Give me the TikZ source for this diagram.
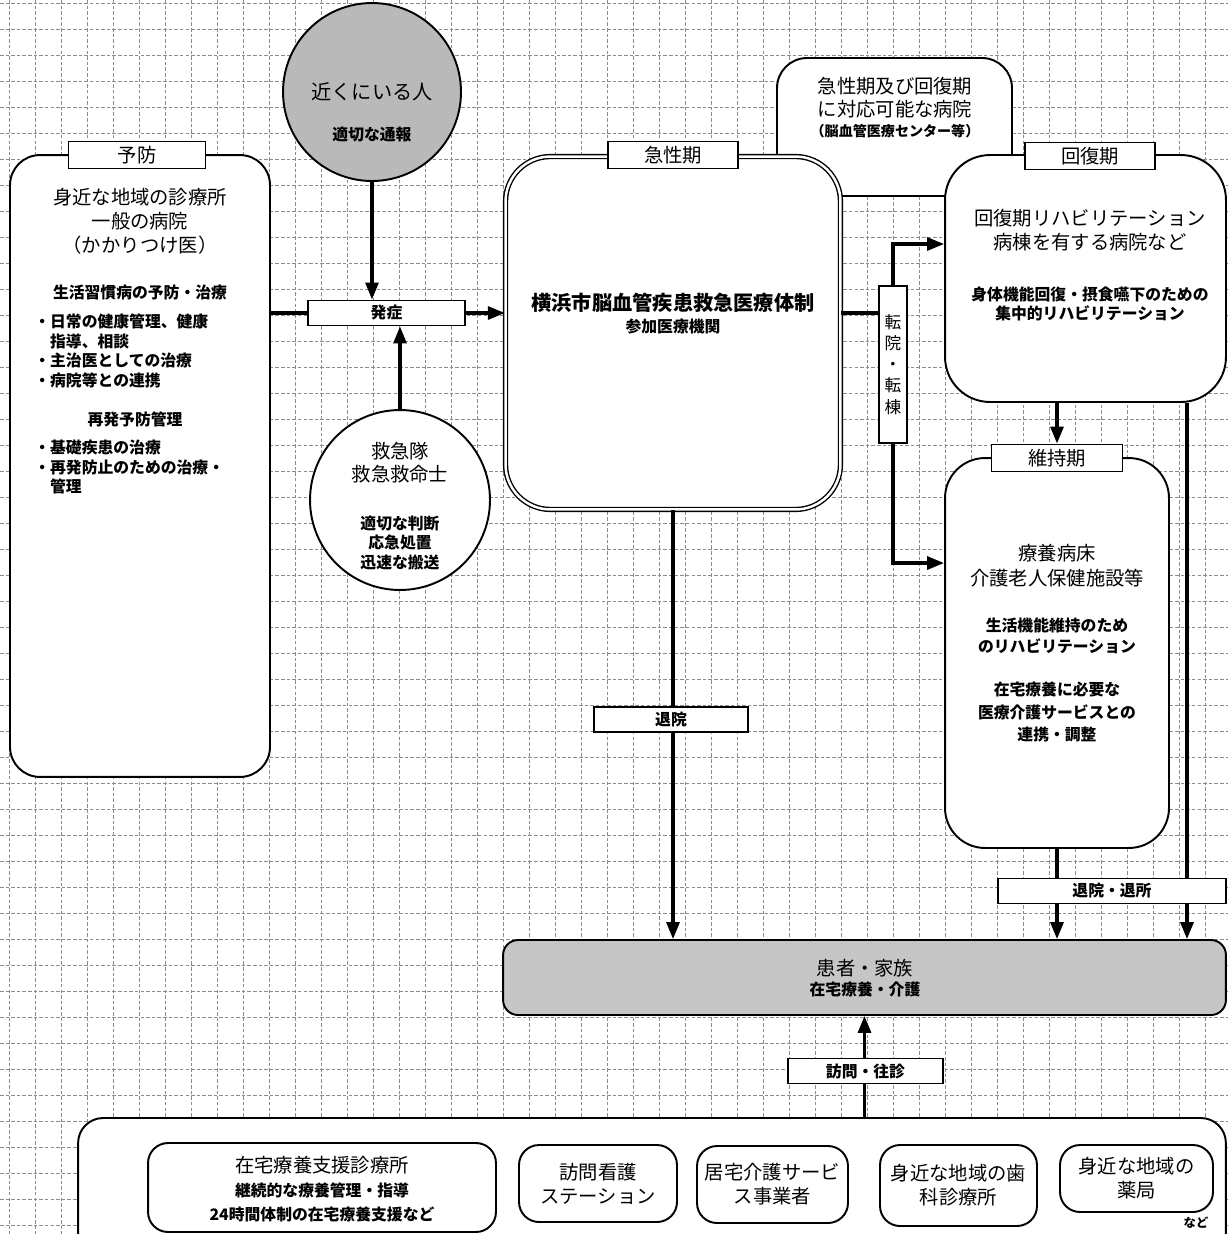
\documentclass[tikz,border=0pt]{standalone}
\usepackage{fontspec}
\setmainfont{Noto Sans CJK JP}
\usetikzlibrary{arrows.meta}

\begin{document}
\begin{tikzpicture}[
    x=0.02cm, y=-0.02cm,
    every node/.style={align=center, inner sep=0pt},
    gridline/.style={black!45, line width=0.4pt, dash pattern=on 2pt off 1.2pt},
    bigtext/.style={font=\fontsize{11}{13.7}\selectfont},
    smalltext/.style={font=\bfseries\fontsize{9}{11.3}\selectfont},
    box/.style={draw, line width=1.1pt, fill=white, rounded corners=#1},
    box/.default=6mm,
    stagelabel/.style={draw, line width=1.1pt, fill=white,
    minimum width=2.6cm, minimum height=0.54cm,
    font=\fontsize{11}{13}\selectfont},
    flowlabel/.style={draw, line width=1.1pt, fill=white,
    minimum height=0.5cm, font=\bfseries\fontsize{9}{11}\selectfont},
    flow/.style={line width=1.8pt, -{Triangle[length=3.4mm,width=2.6mm]}},
    link/.style={line width=1.8pt}
  ]
  \path[use as bounding box, fill=white] (0,0) rectangle (1228,1234);
  % background grid
  \foreach \gx in {9,35,...,1231}
    \draw[gridline] (\gx,0) -- (\gx,1234);
  \foreach \gy in {3,29,...,1237}
    \draw[gridline] (0,\gy) -- (1228,\gy);

  % prevention
  \node[box=6mm, minimum width=5.2cm, minimum height=12.44cm] (yobo) at (140,466) {};
  \node[stagelabel, minimum width=2.74cm] (yobolbl) at (137,155) {予防};
  \node[bigtext] (yobotxt) at (140,221)
  {身近な地域の診療所\\一般の病院\\（かかりつけ医）};
  \node[smalltext] (yobosub) at (140,293) {生活習慣病の予防・治療};
  \node[smalltext, align=left, anchor=west] (yobolist) at (34,351)
  {・日常の健康管理、健康\\\phantom{・}指導、相談\\・主治医としての治療\\・病院等との連携};
  \node[smalltext] (saihatsu) at (135,419) {再発予防管理};
  \node[smalltext, align=left, anchor=west] (saihatsulist) at (34,467)
  {・基礎疾患の治療\\・再発防止のための治療・\\\phantom{・}管理};

  % acute and recovery hospital (behind)
  \node[box=6mm, minimum width=4.7cm, minimum height=2.76cm] (taiou) at (894.5,127) {};
  \node[bigtext, font=\fontsize{11}{13.2}\selectfont] (taioutxt) at (895,98)
  {急性期及び回復期\\に対応可能な病院};
  \node[font=\bfseries\fontsize{8}{10}\selectfont] (taiousub) at (895,131)
  {（脳血管医療センター等）};

  % people nearby
  \node[draw, circle, line width=1.1pt, fill=gray!55, minimum size=3.56cm] (chikaku) at (372,92) {};
  \node[bigtext, font=\fontsize{11.5}{14}\selectfont] (chikakutxt) at (372,92) {近くにいる人};
  \node[smalltext] (tsuho) at (372,135) {適切な通報};

  % onset
  \node[flowlabel, minimum width=3.14cm] (hassho) at (386.5,313) {発症};

  % ambulance
  \node[draw, circle, line width=1.1pt, fill=white, minimum size=3.6cm] (kyukyu) at (400,500) {};
  \node[bigtext, font=\fontsize{11}{13}\selectfont] (kyukyutxt) at (400,463) {救急隊\\救急救命士};
  \node[smalltext] (kyukyusub) at (400,543) {適切な判断\\応急処置\\迅速な搬送};

  % acute phase
  \node[draw, double, double distance=1.4pt, line width=0.8pt, fill=white,
  rounded corners=9mm, minimum width=6.7cm, minimum height=7.06cm] (kyusei) at (673,333) {};
  \node[stagelabel] (kyuseilbl) at (673,155) {急性期};
  \node[font=\bfseries\fontsize{11.5}{14}\selectfont] (kyuseitxt) at (673,303)
  {横浜市脳血管疾患救急医療体制};
  \node[smalltext] (kyuseisub) at (673,327) {参加医療機関};

  % recovery phase
  \node[box=9mm, minimum width=5.62cm, minimum height=4.94cm] (kaifuku) at (1085.5,278.5) {};
  \node[stagelabel] (kaifukulbl) at (1090,156) {回復期};
  \node[bigtext, font=\fontsize{11}{14}\selectfont] (kaifukutxt) at (1090,230)
  {回復期リハビリテーション\\病棟を有する病院など};
  \node[smalltext] (kaifukusub) at (1090,304)
  {身体機能回復・摂食嚥下のための\\集中的リハビリテーション};

  % maintenance phase
  \node[box=8mm, minimum width=4.48cm, minimum height=7.8cm] (iji) at (1057,653) {};
  \node[stagelabel, minimum width=2.62cm] (ijilbl) at (1057,458) {維持期};
  \node[bigtext, font=\fontsize{11}{14.2}\selectfont] (ijitxt) at (1057,565.5)
  {療養病床\\介護老人保健施設等};
  \node[smalltext, font=\bfseries\fontsize{9}{12.2}\selectfont] (ijisub) at (1057,636)
  {生活機能維持のため\\のリハビリテーション};
  \node[smalltext, font=\bfseries\fontsize{9}{12.8}\selectfont] (ijirenkei) at (1057,712)
  {在宅療養に必要な\\医療介護サービスとの\\連携・調整};

  % transfer
  \node[flowlabel, minimum width=0.56cm, minimum height=3.14cm,
  font=\fontsize{9.5}{12}\selectfont] (tenin) at (893,364.5) {転\\院\\・\\転\\棟};

  % patient and family
  \node[box=3mm, fill=gray!45, minimum width=14.46cm, minimum height=1.5cm] (kanja) at (864.5,977.5) {};
  \node[bigtext] (kanjatxt) at (865,968) {患者・家族};
  \node[smalltext] (kanjasub) at (865,989) {在宅療養・介護};

  % community services
  \node[box=5mm, minimum width=22.96cm, minimum height=3.2cm] (chiiki) at (652,1198) {};
  \node[box=4mm, minimum width=6.96cm, minimum height=1.78cm] (shien) at (322,1187.5) {};
  \node[bigtext] (shientxt) at (322,1165) {在宅療養支援診療所};
  \node[smalltext, font=\bfseries\fontsize{9}{13.6}\selectfont] (shiensub) at (322,1202)
  {継続的な療養管理・指導\\24時間体制の在宅療養支援など};
  \node[box=4mm, minimum width=3.16cm, minimum height=1.54cm, bigtext] (kango) at (598,1183.5)
  {訪問看護\\ステーション};
  \node[box=4mm, minimum width=3.02cm, minimum height=1.54cm, bigtext] (kyotaku) at (772.5,1184.5)
  {居宅介護サービ\\ス事業者};
  \node[box=4mm, minimum width=3.14cm, minimum height=1.62cm, bigtext] (shika) at (958.5,1185.5)
  {身近な地域の歯\\科診療所};
  \node[box=4mm, minimum width=3.06cm, minimum height=1.34cm, bigtext] (yakkyoku) at (1136.5,1178.5)
  {身近な地域の\\薬局};
  \node[font=\bfseries\fontsize{7}{8}\selectfont] (nado) at (1196,1223) {など};

  % connectors
  \draw[flow] (chikaku.south) -- (chikaku.south |- hassho.north);
  \draw[flow] (kyukyu.north) -- (kyukyu.north |- hassho.south);
  \draw[link] (yobo.east |- hassho.west) -- (hassho.west);
  \draw[flow] (hassho.east) -- (kyusei.west |- hassho.east);
  \draw[link] (kyusei.east |- hassho.east) -- (tenin.west |- hassho.east);
  \draw[flow] (tenin.north) |- ([yshift=0.69cm]kaifuku.west);
  \draw[flow] (tenin.south) |- ([yshift=1.8cm]iji.west);
  \draw[flow] (ijilbl.north |- kaifuku.south) -- (ijilbl.north);
  \coordinate (kaifukuR) at ([xshift=2.03cm]kaifuku.south);
  \draw[flow] (kaifukuR) -- (kaifukuR |- kanja.north);
  \draw[flow] (iji.south) -- (iji.south |- kanja.north);
  \draw[flow] (kyusei.south) -- (kyusei.south |- kanja.north);
  \draw[flow] (kanja.south |- chiiki.north) -- (kanja.south);

  % labels on the connectors
  \node[flowlabel, minimum width=3.08cm] (taiin) at (671,719.5) {退院};
  \node[flowlabel, minimum width=4.56cm] (taisho) at (1112,891) {退院・退所};
  \node[flowlabel, minimum width=3.1cm] (oushin) at (865.5,1071) {訪問・往診};
\end{tikzpicture}
\end{document}
